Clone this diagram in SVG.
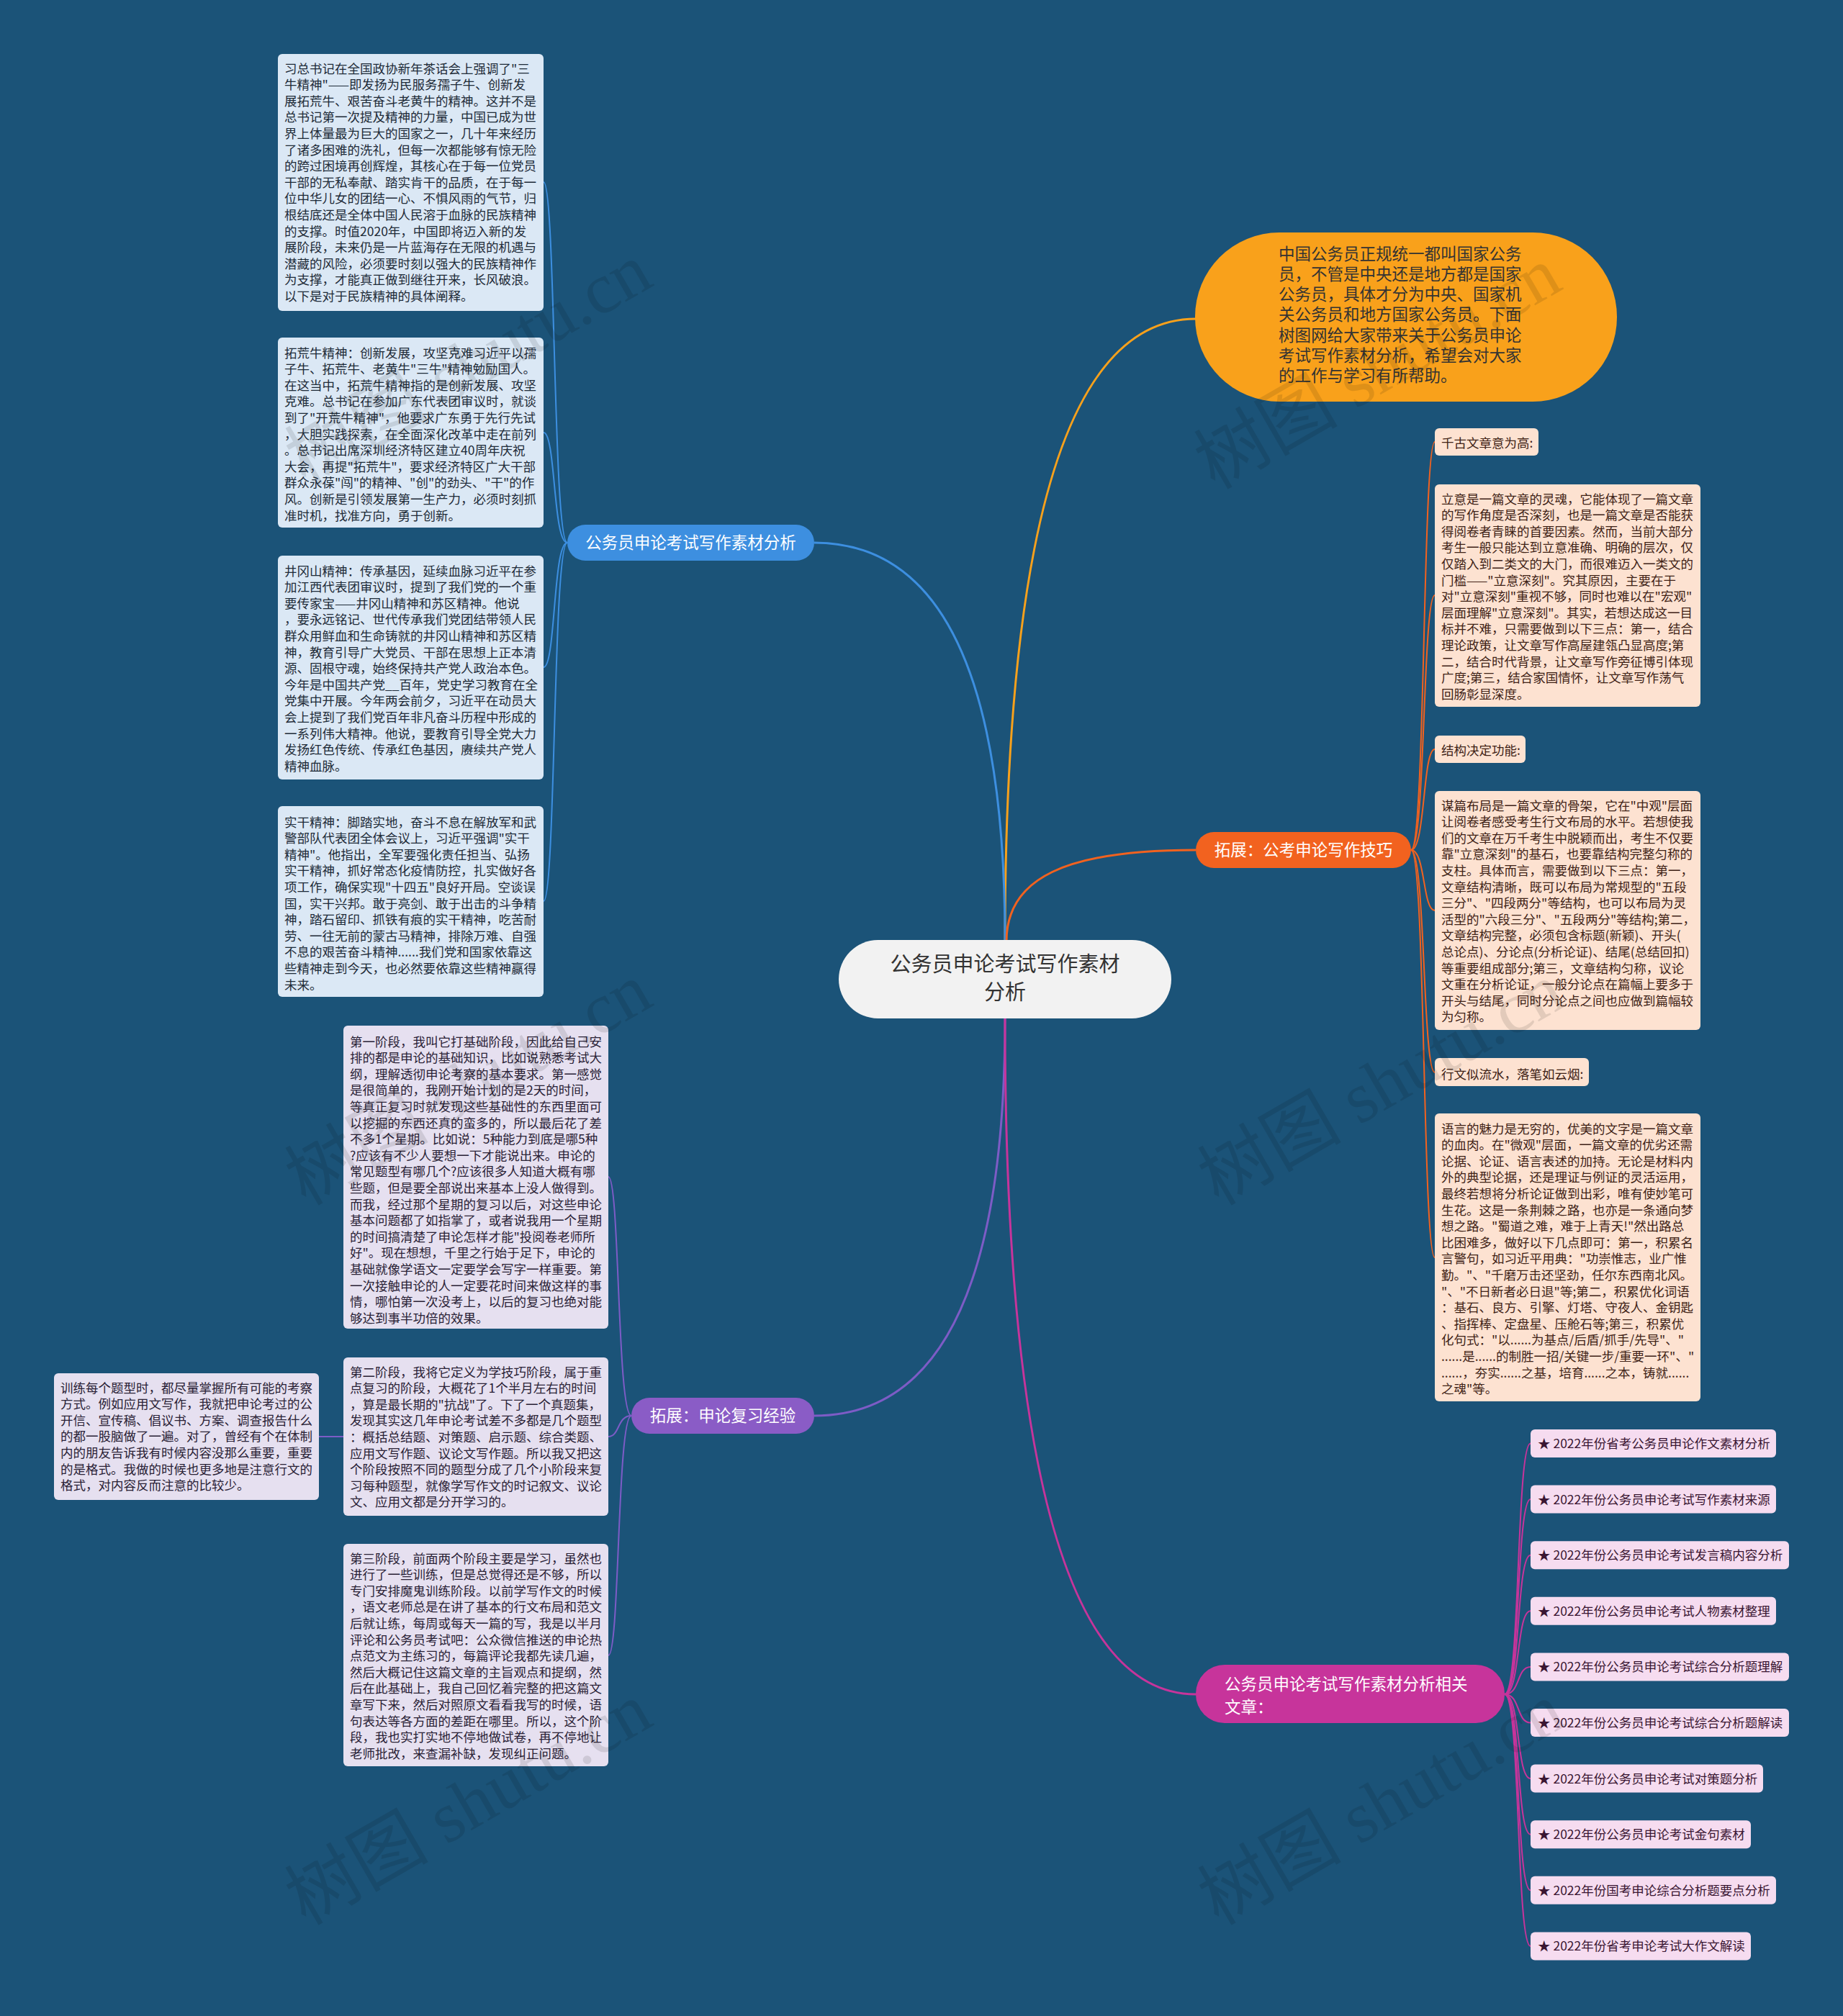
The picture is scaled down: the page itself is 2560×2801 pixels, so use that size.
<svg xmlns="http://www.w3.org/2000/svg" width="2560" height="2801" viewBox="0 0 2560 2801">
<style>
.t{font-family:"Noto Sans CJK SC","Noto Sans",sans-serif;font-size:17.5px;}
.tb{fill:#1e2b38}
.ts{fill:#3f2216}
.tp{fill:#2a2236}
.tm{fill:#3a1632}
.bb{fill:#dbe8f5}
.bs{fill:#fde2d1}
.bp{fill:#e6e0f0}
.bm{fill:#f6dcf0}
.mn{font-family:"Noto Sans CJK SC","Noto Sans",sans-serif;font-size:22.5px;fill:#fff;}
.sub{fill:none;stroke-width:2}
.main{fill:none;stroke-width:3}
.wm{font-family:"Liberation Serif","Noto Sans CJK SC",serif;font-size:100px;fill:#000;opacity:0.1}
</style>
<rect width="2560" height="2801" fill="#1b5378"/>

<g id="connectors">
<path class="main" stroke="#f9a11b" d="M1396 1308 Q1396 443 1661 443"/>
<path class="main" stroke="#3d8fe0" d="M1396 1308 Q1396 754 1131 754"/>
<path class="main" stroke="#f2621f" d="M1398 1308 C1398 1220 1480 1181 1661 1181"/>
<path class="main" stroke="#7d5cc6" d="M1396 1415 Q1396 1967 1131 1967"/>
<path class="main" stroke="#c7349b" d="M1396 1415 Q1396 2354 1661 2354"/>
<g stroke="#3d8fe0">
<path class="sub" d="M788 754 C768 754 772 253 755 253"/>
<path class="sub" d="M788 754 C768 754 772 601 755 601"/>
<path class="sub" d="M788 754 C768 754 772 927 755 927"/>
<path class="sub" d="M788 754 C768 754 772 1252 755 1252"/>
</g>
<g stroke="#f2621f">
<path class="sub" d="M1960 1181 C1980 1181 1976 614 1993 614"/>
<path class="sub" d="M1960 1181 C1980 1181 1976 827 1993 827"/>
<path class="sub" d="M1960 1181 C1980 1181 1976 1041 1993 1041"/>
<path class="sub" d="M1960 1181 C1980 1181 1976 1265 1993 1265"/>
<path class="sub" d="M1960 1181 C1980 1181 1976 1490 1993 1490"/>
<path class="sub" d="M1960 1181 C1980 1181 1976 1747 1993 1747"/>
</g>
<g stroke="#7d5cc6">
<path class="sub" d="M877 1967 C857 1967 861 1635 845 1635"/>
<path class="sub" d="M877 1967 C857 1967 861 1996 845 1996"/>
<path class="sub" d="M877 1967 C857 1967 861 2300 845 2300"/>
<path class="sub" d="M477 1996 L443 1996"/>
</g>
<g stroke="#c7349b">
<path class="sub" d="M2090 2354 C2112 2354 2106 2005.5 2126 2005.5"/>
<path class="sub" d="M2090 2354 C2112 2354 2106 2083.1 2126 2083.1"/>
<path class="sub" d="M2090 2354 C2112 2354 2106 2160.7 2126 2160.7"/>
<path class="sub" d="M2090 2354 C2112 2354 2106 2238.3 2126 2238.3"/>
<path class="sub" d="M2090 2354 C2112 2354 2106 2315.9 2126 2315.9"/>
<path class="sub" d="M2090 2354 C2112 2354 2106 2393.5 2126 2393.5"/>
<path class="sub" d="M2090 2354 C2112 2354 2106 2471.1 2126 2471.1"/>
<path class="sub" d="M2090 2354 C2112 2354 2106 2548.7 2126 2548.7"/>
<path class="sub" d="M2090 2354 C2112 2354 2106 2626.3 2126 2626.3"/>
<path class="sub" d="M2090 2354 C2112 2354 2106 2703.9 2126 2703.9"/>
</g>
</g>

<g id="root">
<rect x="1165" y="1306" width="462" height="109" rx="54.5" fill="#f2f2f2"/>
<text font-family="'Noto Sans CJK SC',sans-serif" font-size="29" fill="#333" text-anchor="middle"><tspan x="1396" y="1350">公务员申论考试写作素材</tspan><tspan x="1396" dy="39">分析</tspan></text>
</g>

<g id="intro">
<rect x="1660" y="323" width="586" height="235" rx="117" fill="#f9a11b"/>
<text class="mn" style="fill:#333"><tspan x="1776" y="360.5">中国公务员正规统一都叫国家公务</tspan><tspan x="1776" dy="28.3">员，不管是中央还是地方都是国家</tspan><tspan x="1776" dy="28.3">公务员，具体才分为中央、国家机</tspan><tspan x="1776" dy="28.3">关公务员和地方国家公务员。下面</tspan><tspan x="1776" dy="28.3">树图网给大家带来关于公务员申论</tspan><tspan x="1776" dy="28.3">考试写作素材分析，希望会对大家</tspan><tspan x="1776" dy="28.3">的工作与学习有所帮助。</tspan></text>
</g>

<g id="b-blue">
<rect x="788" y="729" width="343" height="50" rx="25" fill="#3d8fe0"/>
<text class="mn" x="959.5" y="762" text-anchor="middle">公务员申论考试写作素材分析</text>
</g>
<g id="b-orange">
<rect x="1661" y="1156" width="299" height="50" rx="25" fill="#f2621f"/>
<text class="mn" x="1810.5" y="1189" text-anchor="middle">拓展：公考申论写作技巧</text>
</g>
<g id="b-purple">
<rect x="877" y="1942" width="254" height="50" rx="25" fill="#8a5cc6"/>
<text class="mn" x="1004" y="1975" text-anchor="middle">拓展：申论复习经验</text>
</g>
<g id="b-magenta">
<rect x="1661" y="2313" width="429" height="81" rx="40" fill="#c7349b"/>
<text class="mn"><tspan x="1701" y="2348">公务员申论考试写作素材分析相关</tspan><tspan x="1701" dy="32">文章：</tspan></text>
</g>

<g id="blue-a">
<rect class="bb" x="386" y="75" width="369" height="357" rx="6"/>
<text class="t tb"><tspan x="395" y="101.5">习总书记在全国政协新年茶话会上强调了"三</tspan><tspan x="395" dy="22.6">牛精神"——即发扬为民服务孺子牛、创新发</tspan><tspan x="395" dy="22.6">展拓荒牛、艰苦奋斗老黄牛的精神。这并不是</tspan><tspan x="395" dy="22.6">总书记第一次提及精神的力量，中国已成为世</tspan><tspan x="395" dy="22.6">界上体量最为巨大的国家之一，几十年来经历</tspan><tspan x="395" dy="22.6">了诸多困难的洗礼，但每一次都能够有惊无险</tspan><tspan x="395" dy="22.6">的跨过困境再创辉煌，其核心在于每一位党员</tspan><tspan x="395" dy="22.6">干部的无私奉献、踏实肯干的品质，在于每一</tspan><tspan x="395" dy="22.6">位中华儿女的团结一心、不惧风雨的气节，归</tspan><tspan x="395" dy="22.6">根结底还是全体中国人民溶于血脉的民族精神</tspan><tspan x="395" dy="22.6">的支撑。时值2020年，中国即将迈入新的发</tspan><tspan x="395" dy="22.6">展阶段，未来仍是一片蓝海存在无限的机遇与</tspan><tspan x="395" dy="22.6">潜藏的风险，必须要时刻以强大的民族精神作</tspan><tspan x="395" dy="22.6">为支撑，才能真正做到继往开来，长风破浪。</tspan><tspan x="395" dy="22.6">以下是对于民族精神的具体阐释。</tspan></text>
</g>
<g id="blue-b">
<rect class="bb" x="386" y="469" width="369" height="264" rx="6"/>
<text class="t tb"><tspan x="395" y="496.5">拓荒牛精神：创新发展，攻坚克难习近平以孺</tspan><tspan x="395" dy="22.6">子牛、拓荒牛、老黄牛"三牛"精神勉励国人。</tspan><tspan x="395" dy="22.6">在这当中，拓荒牛精神指的是创新发展、攻坚</tspan><tspan x="395" dy="22.6">克难。总书记在参加广东代表团审议时，就谈</tspan><tspan x="395" dy="22.6">到了"开荒牛精神"，他要求广东勇于先行先试</tspan><tspan x="395" dy="22.6">，大胆实践探索，在全面深化改革中走在前列</tspan><tspan x="395" dy="22.6">。总书记出席深圳经济特区建立40周年庆祝</tspan><tspan x="395" dy="22.6">大会，再提"拓荒牛"，要求经济特区广大干部</tspan><tspan x="395" dy="22.6">群众永葆"闯"的精神、"创"的劲头、"干"的作</tspan><tspan x="395" dy="22.6">风。创新是引领发展第一生产力，必须时刻抓</tspan><tspan x="395" dy="22.6">准时机，找准方向，勇于创新。</tspan></text>
</g>
<g id="blue-c">
<rect class="bb" x="386" y="772" width="369" height="311" rx="6"/>
<text class="t tb"><tspan x="395" y="799.5">井冈山精神：传承基因，延续血脉习近平在参</tspan><tspan x="395" dy="22.6">加江西代表团审议时，提到了我们党的一个重</tspan><tspan x="395" dy="22.6">要传家宝——井冈山精神和苏区精神。他说</tspan><tspan x="395" dy="22.6">，要永远铭记、世代传承我们党团结带领人民</tspan><tspan x="395" dy="22.6">群众用鲜血和生命铸就的井冈山精神和苏区精</tspan><tspan x="395" dy="22.6">神，教育引导广大党员、干部在思想上正本清</tspan><tspan x="395" dy="22.6">源、固根守魂，始终保持共产党人政治本色。</tspan><tspan x="395" dy="22.6">今年是中国共产党__百年，党史学习教育在全</tspan><tspan x="395" dy="22.6">党集中开展。今年两会前夕，习近平在动员大</tspan><tspan x="395" dy="22.6">会上提到了我们党百年非凡奋斗历程中形成的</tspan><tspan x="395" dy="22.6">一系列伟大精神。他说，要教育引导全党大力</tspan><tspan x="395" dy="22.6">发扬红色传统、传承红色基因，赓续共产党人</tspan><tspan x="395" dy="22.6">精神血脉。</tspan></text>
</g>
<g id="blue-d">
<rect class="bb" x="386" y="1120" width="369" height="265" rx="6"/>
<text class="t tb"><tspan x="395" y="1148.5">实干精神：脚踏实地，奋斗不息在解放军和武</tspan><tspan x="395" dy="22.6">警部队代表团全体会议上，习近平强调"实干</tspan><tspan x="395" dy="22.6">精神"。他指出，全军要强化责任担当、弘扬</tspan><tspan x="395" dy="22.6">实干精神，抓好常态化疫情防控，扎实做好各</tspan><tspan x="395" dy="22.6">项工作，确保实现"十四五"良好开局。空谈误</tspan><tspan x="395" dy="22.6">国，实干兴邦。敢于亮剑、敢于出击的斗争精</tspan><tspan x="395" dy="22.6">神，踏石留印、抓铁有痕的实干精神，吃苦耐</tspan><tspan x="395" dy="22.6">劳、一往无前的蒙古马精神，排除万难、自强</tspan><tspan x="395" dy="22.6">不息的艰苦奋斗精神......我们党和国家依靠这</tspan><tspan x="395" dy="22.6">些精神走到今天，也必然要依靠这些精神赢得</tspan><tspan x="395" dy="22.6">未来。</tspan></text>
</g>

<g id="org-e">
<rect class="bs" x="1993" y="595" width="144" height="38" rx="6"/>
<text class="t ts" x="2002" y="621.5">千古文章意为高:</text>
</g>
<g id="org-f">
<rect class="bs" x="1993" y="673" width="369" height="309" rx="6"/>
<text class="t ts"><tspan x="2002" y="699.5">立意是一篇文章的灵魂，它能体现了一篇文章</tspan><tspan x="2002" dy="22.6">的写作角度是否深刻，也是一篇文章是否能获</tspan><tspan x="2002" dy="22.6">得阅卷者青睐的首要因素。然而，当前大部分</tspan><tspan x="2002" dy="22.6">考生一般只能达到立意准确、明确的层次，仅</tspan><tspan x="2002" dy="22.6">仅踏入到二类文的大门，而很难迈入一类文的</tspan><tspan x="2002" dy="22.6">门槛——"立意深刻"。究其原因，主要在于</tspan><tspan x="2002" dy="22.6">对"立意深刻"重视不够，同时也难以在"宏观"</tspan><tspan x="2002" dy="22.6">层面理解"立意深刻"。其实，若想达成这一目</tspan><tspan x="2002" dy="22.6">标并不难，只需要做到以下三点：第一，结合</tspan><tspan x="2002" dy="22.6">理论政策，让文章写作高屋建瓴凸显高度;第</tspan><tspan x="2002" dy="22.6">二，结合时代背景，让文章写作旁征博引体现</tspan><tspan x="2002" dy="22.6">广度;第三，结合家国情怀，让文章写作荡气</tspan><tspan x="2002" dy="22.6">回肠彰显深度。</tspan></text>
</g>
<g id="org-g">
<rect class="bs" x="1993" y="1022" width="126" height="38" rx="6"/>
<text class="t ts" x="2002" y="1048.5">结构决定功能:</text>
</g>
<g id="org-h">
<rect class="bs" x="1993" y="1099" width="369" height="332" rx="6"/>
<text class="t ts"><tspan x="2002" y="1125.5">谋篇布局是一篇文章的骨架，它在"中观"层面</tspan><tspan x="2002" dy="22.6">让阅卷者感受考生行文布局的水平。若想使我</tspan><tspan x="2002" dy="22.6">们的文章在万千考生中脱颖而出，考生不仅要</tspan><tspan x="2002" dy="22.6">靠"立意深刻"的基石，也要靠结构完整匀称的</tspan><tspan x="2002" dy="22.6">支柱。具体而言，需要做到以下三点：第一，</tspan><tspan x="2002" dy="22.6">文章结构清晰，既可以布局为常规型的"五段</tspan><tspan x="2002" dy="22.6">三分"、"四段两分"等结构，也可以布局为灵</tspan><tspan x="2002" dy="22.6">活型的"六段三分"、"五段两分"等结构;第二，</tspan><tspan x="2002" dy="22.6">文章结构完整，必须包含标题(新颖)、开头(</tspan><tspan x="2002" dy="22.6">总论点)、分论点(分析论证)、结尾(总结回扣)</tspan><tspan x="2002" dy="22.6">等重要组成部分;第三，文章结构匀称，议论</tspan><tspan x="2002" dy="22.6">文重在分析论证，一般分论点在篇幅上要多于</tspan><tspan x="2002" dy="22.6">开头与结尾，同时分论点之间也应做到篇幅较</tspan><tspan x="2002" dy="22.6">为匀称。</tspan></text>
</g>
<g id="org-i">
<rect class="bs" x="1993" y="1470" width="214" height="39" rx="6"/>
<text class="t ts" x="2002" y="1498.5">行文似流水，落笔如云烟:</text>
</g>
<g id="org-j">
<rect class="bs" x="1993" y="1547" width="369" height="400" rx="6"/>
<text class="t ts"><tspan x="2002" y="1574.5">语言的魅力是无穷的，优美的文字是一篇文章</tspan><tspan x="2002" dy="22.6">的血肉。在"微观"层面，一篇文章的优劣还需</tspan><tspan x="2002" dy="22.6">论据、论证、语言表述的加持。无论是材料内</tspan><tspan x="2002" dy="22.6">外的典型论据，还是理证与例证的灵活运用，</tspan><tspan x="2002" dy="22.6">最终若想将分析论证做到出彩，唯有使妙笔可</tspan><tspan x="2002" dy="22.6">生花。这是一条荆棘之路，也亦是一条通向梦</tspan><tspan x="2002" dy="22.6">想之路。"蜀道之难，难于上青天!"然出路总</tspan><tspan x="2002" dy="22.6">比困难多，做好以下几点即可：第一，积累名</tspan><tspan x="2002" dy="22.6">言警句，如习近平用典："功崇惟志，业广惟</tspan><tspan x="2002" dy="22.6">勤。"、"千磨万击还坚劲，任尔东西南北风。</tspan><tspan x="2002" dy="22.6">"、"不日新者必日退"等;第二，积累优化词语</tspan><tspan x="2002" dy="22.6">：基石、良方、引擎、灯塔、守夜人、金钥匙</tspan><tspan x="2002" dy="22.6">、指挥棒、定盘星、压舱石等;第三，积累优</tspan><tspan x="2002" dy="22.6">化句式："以......为基点/后盾/抓手/先导"、"</tspan><tspan x="2002" dy="22.6">......是......的制胜一招/关键一步/重要一环"、"</tspan><tspan x="2002" dy="22.6">......，夯实......之基，培育......之本，铸就......</tspan><tspan x="2002" dy="22.6">之魂"等。</tspan></text>
</g>

<g id="pur-k">
<rect class="bp" x="477" y="1425" width="368" height="421" rx="6"/>
<text class="t tp"><tspan x="486" y="1453.5">第一阶段，我叫它打基础阶段，因此给自己安</tspan><tspan x="486" dy="22.6">排的都是申论的基础知识，比如说熟悉考试大</tspan><tspan x="486" dy="22.6">纲，理解透彻申论考察的基本要求。第一感觉</tspan><tspan x="486" dy="22.6">是很简单的，我刚开始计划的是2天的时间，</tspan><tspan x="486" dy="22.6">等真正复习时就发现这些基础性的东西里面可</tspan><tspan x="486" dy="22.6">以挖掘的东西还真的蛮多的，所以最后花了差</tspan><tspan x="486" dy="22.6">不多1个星期。比如说：5种能力到底是哪5种</tspan><tspan x="486" dy="22.6">?应该有不少人要想一下才能说出来。申论的</tspan><tspan x="486" dy="22.6">常见题型有哪几个?应该很多人知道大概有哪</tspan><tspan x="486" dy="22.6">些题，但是要全部说出来基本上没人做得到。</tspan><tspan x="486" dy="22.6">而我，经过那个星期的复习以后，对这些申论</tspan><tspan x="486" dy="22.6">基本问题都了如指掌了，或者说我用一个星期</tspan><tspan x="486" dy="22.6">的时间搞清楚了申论怎样才能"投阅卷老师所</tspan><tspan x="486" dy="22.6">好"。现在想想，千里之行始于足下，申论的</tspan><tspan x="486" dy="22.6">基础就像学语文一定要学会写字一样重要。第</tspan><tspan x="486" dy="22.6">一次接触申论的人一定要花时间来做这样的事</tspan><tspan x="486" dy="22.6">情，哪怕第一次没考上，以后的复习也绝对能</tspan><tspan x="486" dy="22.6">够达到事半功倍的效果。</tspan></text>
</g>
<g id="pur-l">
<rect class="bp" x="477" y="1886" width="368" height="220" rx="6"/>
<text class="t tp"><tspan x="486" y="1912.5">第二阶段，我将它定义为学技巧阶段，属于重</tspan><tspan x="486" dy="22.6">点复习的阶段，大概花了1个半月左右的时间</tspan><tspan x="486" dy="22.6">，算是最长期的"抗战"了。下了一个真题集，</tspan><tspan x="486" dy="22.6">发现其实这几年申论考试差不多都是几个题型</tspan><tspan x="486" dy="22.6">：概括总结题、对策题、启示题、综合类题、</tspan><tspan x="486" dy="22.6">应用文写作题、议论文写作题。所以我又把这</tspan><tspan x="486" dy="22.6">个阶段按照不同的题型分成了几个小阶段来复</tspan><tspan x="486" dy="22.6">习每种题型，就像学写作文的时记叙文、议论</tspan><tspan x="486" dy="22.6">文、应用文都是分开学习的。</tspan></text>
</g>
<g id="pur-m">
<rect class="bp" x="75" y="1908" width="368" height="176" rx="6"/>
<text class="t tp"><tspan x="84" y="1934.5">训练每个题型时，都尽量掌握所有可能的考察</tspan><tspan x="84" dy="22.6">方式。例如应用文写作，我就把申论考过的公</tspan><tspan x="84" dy="22.6">开信、宣传稿、倡议书、方案、调查报告什么</tspan><tspan x="84" dy="22.6">的都一股脑做了一遍。对了，曾经有个在体制</tspan><tspan x="84" dy="22.6">内的朋友告诉我有时候内容没那么重要，重要</tspan><tspan x="84" dy="22.6">的是格式。我做的时候也更多地是注意行文的</tspan><tspan x="84" dy="22.6">格式，对内容反而注意的比较少。</tspan></text>
</g>
<g id="pur-n">
<rect class="bp" x="477" y="2145" width="368" height="309" rx="6"/>
<text class="t tp"><tspan x="486" y="2171.5">第三阶段，前面两个阶段主要是学习，虽然也</tspan><tspan x="486" dy="22.6">进行了一些训练，但是总觉得还是不够，所以</tspan><tspan x="486" dy="22.6">专门安排魔鬼训练阶段。以前学写作文的时候</tspan><tspan x="486" dy="22.6">，语文老师总是在讲了基本的行文布局和范文</tspan><tspan x="486" dy="22.6">后就让练，每周或每天一篇的写，我是以半月</tspan><tspan x="486" dy="22.6">评论和公务员考试吧：公众微信推送的申论热</tspan><tspan x="486" dy="22.6">点范文为主练习的，每篇评论我都先读几遍，</tspan><tspan x="486" dy="22.6">然后大概记住这篇文章的主旨观点和提纲，然</tspan><tspan x="486" dy="22.6">后在此基础上，我自己回忆着完整的把这篇文</tspan><tspan x="486" dy="22.6">章写下来，然后对照原文看看我写的时候，语</tspan><tspan x="486" dy="22.6">句表达等各方面的差距在哪里。所以，这个阶</tspan><tspan x="486" dy="22.6">段，我也实打实地不停地做试卷，再不停地让</tspan><tspan x="486" dy="22.6">老师批改，来查漏补缺，发现纠正问题。</tspan></text>
</g>

<g id="links">
<g id="link-1"><rect class="bm" x="2126" y="1986" width="341" height="39" rx="6"/><text class="t tm" x="2136" y="2012">★ 2022年份省考公务员申论作文素材分析</text></g>
<g id="link-2"><rect class="bm" x="2126" y="2063.6" width="341" height="39" rx="6"/><text class="t tm" x="2136" y="2089.6">★ 2022年份公务员申论考试写作素材来源</text></g>
<g id="link-3"><rect class="bm" x="2126" y="2141.2" width="359" height="39" rx="6"/><text class="t tm" x="2136" y="2167.2">★ 2022年份公务员申论考试发言稿内容分析</text></g>
<g id="link-4"><rect class="bm" x="2126" y="2218.8" width="341" height="39" rx="6"/><text class="t tm" x="2136" y="2244.8">★ 2022年份公务员申论考试人物素材整理</text></g>
<g id="link-5"><rect class="bm" x="2126" y="2296.4" width="359" height="39" rx="6"/><text class="t tm" x="2136" y="2322.4">★ 2022年份公务员申论考试综合分析题理解</text></g>
<g id="link-6"><rect class="bm" x="2126" y="2374" width="359" height="39" rx="6"/><text class="t tm" x="2136" y="2400">★ 2022年份公务员申论考试综合分析题解读</text></g>
<g id="link-7"><rect class="bm" x="2126" y="2451.6" width="323" height="39" rx="6"/><text class="t tm" x="2136" y="2477.6">★ 2022年份公务员申论考试对策题分析</text></g>
<g id="link-8"><rect class="bm" x="2126" y="2529.2" width="306" height="39" rx="6"/><text class="t tm" x="2136" y="2555.2">★ 2022年份公务员申论考试金句素材</text></g>
<g id="link-9"><rect class="bm" x="2126" y="2606.8" width="341" height="39" rx="6"/><text class="t tm" x="2136" y="2632.8">★ 2022年份国考申论综合分析题要点分析</text></g>
<g id="link-10"><rect class="bm" x="2126" y="2684.4" width="306" height="39" rx="6"/><text class="t tm" x="2136" y="2710.4">★ 2022年份省考申论考试大作文解读</text></g>
</g>

<g id="watermarks">
<text class="wm" x="652" y="540" text-anchor="middle" transform="rotate(-30 652 509)">树图 shutu.cn</text>
<text class="wm" x="1915" y="545" text-anchor="middle" transform="rotate(-30 1915 514)">树图 shutu.cn</text>
<text class="wm" x="652" y="1540" text-anchor="middle" transform="rotate(-30 652 1509)">树图 shutu.cn</text>
<text class="wm" x="1920" y="1540" text-anchor="middle" transform="rotate(-30 1920 1509)">树图 shutu.cn</text>
<text class="wm" x="652" y="2540" text-anchor="middle" transform="rotate(-30 652 2509)">树图 shutu.cn</text>
<text class="wm" x="1920" y="2540" text-anchor="middle" transform="rotate(-30 1920 2509)">树图 shutu.cn</text>
</g>
</svg>
